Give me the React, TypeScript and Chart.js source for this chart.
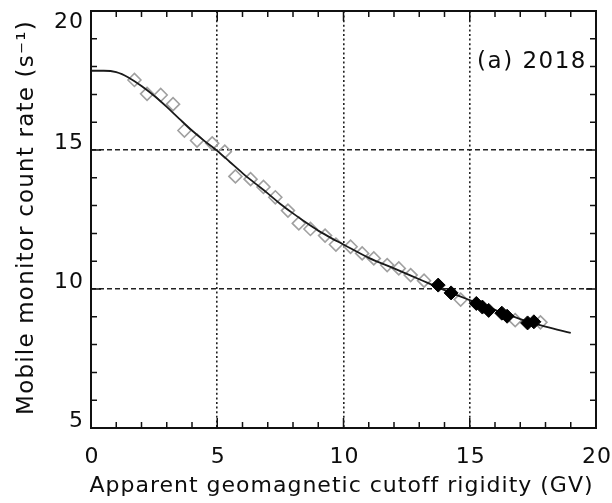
import { useEffect, useRef } from 'react';
import { Chart, registerables } from 'chart.js';

Chart.register(...registerables);

// Axis ticks and labels
const X_TICKS = [0, 5, 10, 15, 20];
const Y_TICKS = [5, 10, 15, 20];
const X_TITLE = 'Apparent geomagnetic cutoff rigidity (GV)';
const Y_TITLE = 'Mobile monitor count rate (s\u207B\u00B9)';
const PANEL_LABEL = '(a) 2018';

// Survey measurements (open diamonds)
const openRigidity = [1.72, 2.22, 2.76, 3.25, 3.7, 4.2, 4.8, 5.3, 5.72, 6.32, 6.83, 7.3, 7.8, 8.23, 8.69, 9.27, 9.7, 10.28, 10.74, 11.2, 11.73, 12.19, 12.66, 13.19, 14.64, 16.8, 17.8];
const openRate = [17.52, 17.02, 16.98, 16.65, 15.7, 15.34, 15.24, 14.94, 14.05, 13.95, 13.67, 13.3, 12.82, 12.36, 12.16, 11.92, 11.6, 11.52, 11.28, 11.1, 10.86, 10.74, 10.5, 10.3, 9.62, 8.88, 8.8];

// Highlighted measurements (filled diamonds)
const filledRigidity = [13.75, 14.26, 15.26, 15.5, 15.75, 16.27, 16.48, 17.29, 17.54];
const filledRate = [10.14, 9.86, 9.48, 9.35, 9.23, 9.13, 9.02, 8.78, 8.82];

// Fitted response curve
const fitRigidity = [0, 0.5, 1, 1.5, 2, 2.5, 3, 3.5, 4, 4.5, 5, 5.5, 6, 6.5, 7, 7.5, 8, 8.5, 9, 9.5, 10, 11, 12, 13, 14, 15, 16, 17, 18, 19];
const fitRate = [17.85, 17.85, 17.8, 17.6, 17.3, 16.95, 16.55, 16.12, 15.7, 15.32, 14.97, 14.57, 14.17, 13.8, 13.44, 13.06, 12.72, 12.4, 12.1, 11.84, 11.6, 11.12, 10.74, 10.35, 9.96, 9.6, 9.25, 8.92, 8.65, 8.42];

const FONT = "'DejaVu Sans', sans-serif";
const INK = '#0d0d0d';

const zip = (xs: number[], ys: number[]) => xs.map((x, i) => ({ x, y: ys[i] }));

function spacedText(ctx: any, text: string, x: number, y: number, spacing: number) {
  ctx.letterSpacing = `${spacing}px`;
  ctx.fillText(text, x, y);
  ctx.letterSpacing = '0px';
}

const framePlugin = {
  id: 'frame',
  afterDatasetsDraw(chart: any) {
    const { ctx, chartArea: a, scales } = chart;
    const xs = scales.x;
    const ys = scales.y;
    ctx.save();
    ctx.strokeStyle = '#111';
    // inward minor/major ticks on all four sides
    ctx.lineWidth = 1.5;
    ctx.beginPath();
    for (let v = xs.min; v <= xs.max; v += 1) {
      const px = xs.getPixelForValue(v);
      const len = v % 5 === 0 ? 10 : 6;
      ctx.moveTo(px, a.bottom);
      ctx.lineTo(px, a.bottom - len);
      ctx.moveTo(px, a.top);
      ctx.lineTo(px, a.top + len);
    }
    for (let v = ys.min; v <= ys.max; v += 1) {
      const py = ys.getPixelForValue(v);
      const len = v % 5 === 0 ? 10 : 6;
      ctx.moveTo(a.left, py);
      ctx.lineTo(a.left + len, py);
      ctx.moveTo(a.right, py);
      ctx.lineTo(a.right - len, py);
    }
    ctx.stroke();
    // plot frame
    ctx.lineWidth = 2;
    ctx.strokeRect(a.left, a.top, a.right - a.left, a.bottom - a.top);

    ctx.fillStyle = INK;
    ctx.textBaseline = 'alphabetic';
    ctx.font = `22px ${FONT}`;

    // y tick labels
    ctx.textAlign = 'right';
    Y_TICKS.forEach((v) => {
      const py = Math.max(ys.getPixelForValue(v) - 1, a.top + 17);
      spacedText(ctx, String(v), a.left - 7, py, 1);
    });

    // x tick labels
    ctx.textAlign = 'center';
    X_TICKS.forEach((v) => {
      spacedText(ctx, String(v), xs.getPixelForValue(v) + 1, a.bottom + 35, 1);
    });

    // x axis title
    ctx.font = `22px ${FONT}`;
    spacedText(ctx, X_TITLE, (a.left + a.right) / 2 - 2, a.bottom + 64, 1);

    // y axis title
    ctx.save();
    ctx.translate(33, (a.top + a.bottom) / 2 - 2);
    ctx.rotate(-Math.PI / 2);
    ctx.font = `23px ${FONT}`;
    spacedText(ctx, Y_TITLE, 0, 0, 1.2);
    ctx.restore();

    // panel label
    ctx.textAlign = 'right';
    ctx.font = `23px ${FONT}`;
    spacedText(ctx, PANEL_LABEL, a.right - 9, a.top + 57, 1.5);
    ctx.restore();
  },
};

export default function App() {
  const ref = useRef<HTMLCanvasElement>(null);

  useEffect(() => {
    if (!ref.current) return;
    const chart = new Chart(ref.current, {
      type: 'scatter',
      data: {
        datasets: [
          {
            label: 'filled',
            data: zip(filledRigidity, filledRate),
            pointStyle: 'rectRot',
            pointRadius: 7,
            backgroundColor: '#000',
            borderColor: '#000',
            borderWidth: 1,
            order: 0,
          },
          {
            label: 'fit',
            data: zip(fitRigidity, fitRate),
            showLine: true,
            pointRadius: 0,
            borderColor: '#1a1a1a',
            borderWidth: 1.8,
            cubicInterpolationMode: 'monotone',
            order: 1,
          } as any,
          {
            label: 'open',
            data: zip(openRigidity, openRate),
            pointStyle: 'rectRot',
            pointRadius: 6.5,
            backgroundColor: 'rgba(255,255,255,0)',
            borderColor: '#a0a0a0',
            borderWidth: 1.6,
            order: 2,
          },
        ],
      },
      options: {
        responsive: false,
        animation: false,
        devicePixelRatio: 1,
        layout: { padding: { top: 11, right: 16, left: 0, bottom: 0 } },
        plugins: { legend: { display: false }, tooltip: { enabled: false } },
        scales: {
          x: {
            type: 'linear',
            min: 0,
            max: 20,
            afterBuildTicks: (s: any) => {
              s.ticks = X_TICKS.map((value) => ({ value }));
            },
            afterFit: (s: any) => {
              s.height = 75;
              s.paddingLeft = 0;
              s.paddingRight = 0;
            },
            ticks: { display: false },
            grid: {
              drawTicks: false,
              lineWidth: 1.6,
              color: (c: any) =>
                c.tick && (c.tick.value === 0 || c.tick.value === 20) ? 'rgba(0,0,0,0)' : '#222',
            },
            border: { display: false, dash: [2, 2.6] },
            title: { display: false },
          },
          y: {
            type: 'linear',
            min: 5,
            max: 20,
            afterBuildTicks: (s: any) => {
              s.ticks = Y_TICKS.map((value) => ({ value }));
            },
            afterFit: (s: any) => {
              s.width = 91;
              s.paddingTop = 0;
              s.paddingBottom = 0;
            },
            ticks: { display: false },
            grid: {
              drawTicks: false,
              lineWidth: 1.6,
              color: (c: any) =>
                c.tick && (c.tick.value === 5 || c.tick.value === 20) ? 'rgba(0,0,0,0)' : '#222',
            },
            border: { display: false, dash: [5, 3] },
            title: { display: false },
          },
        },
      },
      plugins: [framePlugin],
    });
    return () => chart.destroy();
  }, []);

  return (
    <div style={{ position: 'fixed', left: 0, top: 0, width: 612, height: 503, background: '#fff' }}>
      <canvas ref={ref} width={612} height={503} style={{ display: 'block' }} />
    </div>
  );
}
